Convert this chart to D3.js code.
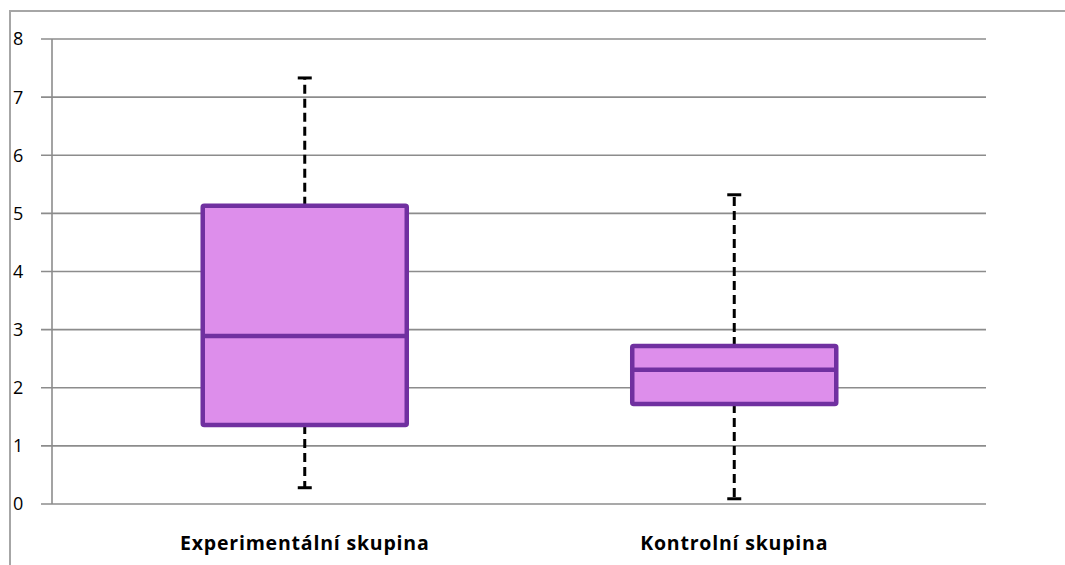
<!DOCTYPE html>
<html>
<head>
<meta charset="utf-8">
<script src="https://cdn.jsdelivr.net/npm/d3@7"></script>
<style>
  html, body { margin: 0; padding: 0; background: #fff; }
  svg { display: block; }
</style>
</head>
<body>
<svg id="chart" width="1065" height="565"></svg>
<script>
// Box plot statistics per group
const categories = ["Experimentální skupina", "Kontrolní skupina"];
const minValues    = [0.28, 0.09];
const q1Values     = [1.36, 1.72];
const medianValues = [2.89, 2.31];
const q3Values     = [5.13, 2.72];
const maxValues    = [7.33, 5.32];
const yTicks = [0, 1, 2, 3, 4, 5, 6, 7, 8];

const svg = d3.select("#chart");

// Outer chart frame
svg.append("path")
  .attr("d", "M10,565 V11 H1065")
  .attr("fill", "none")
  .attr("stroke", "#a6a6a6")
  .attr("stroke-width", 2);

const plot = { left: 52, right: 986, top: 39, bottom: 504 };

const y = d3.scaleLinear().domain([0, 8]).range([plot.bottom, plot.top]);
const x = d3.scaleBand().domain(categories).range([90, 949]).padding(0);
const boxW = x.bandwidth() * 0.475;

// Horizontal gridlines
svg.append("g")
  .selectAll("line")
  .data(yTicks)
  .join("line")
  .attr("x1", plot.left - 11)
  .attr("x2", plot.right)
  .attr("y1", d => y(d))
  .attr("y2", d => y(d))
  .attr("stroke", "#8c8c8c")
  .attr("stroke-width", 1.6);

// Vertical axis line
svg.append("line")
  .attr("x1", plot.left).attr("x2", plot.left)
  .attr("y1", y(8)).attr("y2", y(0))
  .attr("stroke", "#8c8c8c")
  .attr("stroke-width", 1.6);

// Y tick labels
svg.append("g")
  .selectAll("text")
  .data(yTicks)
  .join("text")
  .attr("x", 13)
  .attr("y", d => y(d))
  .attr("dy", "0.36em")
  .attr("font-family", "'Open Sans', 'DejaVu Sans', sans-serif")
  .attr("font-size", 18)
  .attr("fill", "#000")
  .text(d => d);

const rows = categories.map((c, i) => ({
  cat: c,
  min: minValues[i], q1: q1Values[i], med: medianValues[i],
  q3: q3Values[i], max: maxValues[i]
}));

const g = svg.append("g");
const capW = 14;

rows.forEach(r => {
  const cx = x(r.cat) + x.bandwidth() / 2;
  const wg = g.append("g");
  // Upper whisker
  wg.append("line")
    .attr("x1", cx).attr("x2", cx)
    .attr("y1", y(r.q3)).attr("y2", y(r.max))
    .attr("stroke", "#000").attr("stroke-width", 3)
    .attr("stroke-dasharray", "9,5");
  // Lower whisker
  wg.append("line")
    .attr("x1", cx).attr("x2", cx)
    .attr("y1", y(r.q1)).attr("y2", y(r.min))
    .attr("stroke", "#000").attr("stroke-width", 3)
    .attr("stroke-dasharray", "9,5");
  // Caps
  [r.max, r.min].forEach(v => {
    wg.append("line")
      .attr("x1", cx - capW / 2).attr("x2", cx + capW / 2)
      .attr("y1", y(v)).attr("y2", y(v))
      .attr("stroke", "#000").attr("stroke-width", 3);
  });
  // Box
  wg.append("rect")
    .attr("x", cx - boxW / 2)
    .attr("y", y(r.q3))
    .attr("width", boxW)
    .attr("height", y(r.q1) - y(r.q3))
    .attr("fill", "#dd8eeb")
    .attr("stroke", "#7030a0")
    .attr("stroke-width", 4.5)
    .attr("rx", 1.5);
  // Median
  wg.append("line")
    .attr("x1", cx - boxW / 2).attr("x2", cx + boxW / 2)
    .attr("y1", y(r.med)).attr("y2", y(r.med))
    .attr("stroke", "#7030a0").attr("stroke-width", 4.5);
});

// Category labels
svg.append("g")
  .selectAll("text")
  .data(categories)
  .join("text")
  .attr("x", d => x(d) + x.bandwidth() / 2)
  .attr("y", 550)
  .attr("text-anchor", "middle")
  .attr("font-family", "'Open Sans', 'DejaVu Sans', sans-serif")
  .attr("font-weight", "bold")
  .attr("font-size", 19.5)
  .attr("letter-spacing", 0.8)
  .attr("fill", "#000")
  .text(d => d);
</script>
</body>
</html>
